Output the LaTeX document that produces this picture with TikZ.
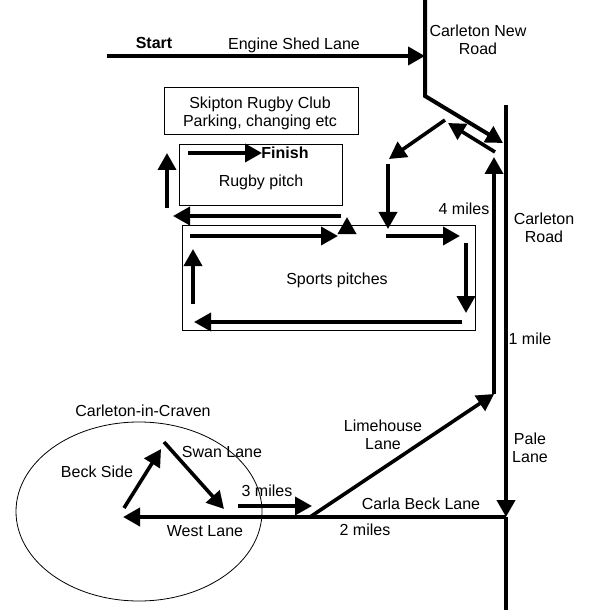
\documentclass[tikz,border=0pt]{standalone}
\usepackage{fontspec}
\setmainfont{Liberation Sans}
\usepackage{xcolor}
\usepackage{tikz}
\usetikzlibrary{arrows.meta,shapes.geometric,positioning}

\begin{document}
\begin{tikzpicture}[->, >={Triangle[length=17pt,width=18pt]}, x=1pt, y=-1pt, font=\fontsize{16}{18}\selectfont]

    \tikzstyle{every node}=[align=center, text=black, inner sep=0pt]
    \tikzstyle{area}=[draw=black, line width=0.8pt, minimum width=#1]
    \tikzstyle{road}=[draw=black, line width=4pt]
    \tikzstyle{route}=[draw=black, line width=3.6pt]

    \useasboundingbox (0,0) rectangle (590,612);

    % areas
    \node[area=194pt, minimum height=47pt] (CLUB) at (261,110.5) {};
    \node[area=163pt, minimum height=61pt] (RUGBY) at (260.5,174.5) {};
    \node[area=293pt, minimum height=105pt] (SPORTS) at (328.5,277.5) {};
    \node[area=246pt, minimum height=179pt, shape=ellipse] (VILLAGE) at (139,511.5) {};

    % roads
    \coordinate (SHEDSTART) at (107,56);
    \coordinate (SHEDEND) at (425,56);
    \coordinate (NEWTOP) at (425,0);
    \coordinate (NEWBEND) at (425,96);
    \coordinate (NEWEND) at (503,143);
    \coordinate (PALETOP) at (506,105);
    \coordinate (PALEJOIN) at (506,517);
    \coordinate (PALEEND) at (506,610);
    \coordinate (WESTEND) at (123,517);
    \coordinate (LIMESTART) at (310,517);
    \coordinate (LIMEEND) at (494,394);

    \path (SHEDSTART) edge [road] (SHEDEND);
    \draw[road] (NEWTOP) -- (NEWBEND) -- (NEWEND);
    \path (PALETOP) edge [road] (PALEJOIN);
    \path (PALEJOIN) edge [road, -] (PALEEND)
                     edge [road] (WESTEND);
    \path (LIMESTART) edge [route] (LIMEEND);

    % route back to the club
    \coordinate (NORTHTIP) at (494,157);
    \coordinate (TURNA) at (495,152);
    \coordinate (TURNB) at (448,123);
    \coordinate (TURNC) at (445,120);
    \coordinate (TURND) at (389,159);
    \coordinate (DOWNA) at (388,164);
    \coordinate (DOWNB) at (388,229);

    \path (LIMEEND) edge [route] (NORTHTIP);
    \path (TURNA) edge [route] (TURNB);
    \path (TURNC) edge [route] (TURND);
    \path (DOWNA) edge [route] (DOWNB);

    % lap of the sports pitches
    \coordinate (LAPA) at (386,236);
    \coordinate (LAPB) at (460,236);
    \coordinate (LAPC) at (466,243);
    \coordinate (LAPD) at (466,313);
    \coordinate (LAPE) at (462,322);
    \coordinate (LAPF) at (194,322);
    \coordinate (LAPG) at (193,304);
    \coordinate (LAPH) at (193,249);
    \coordinate (LAPI) at (190,236);
    \coordinate (LAPJ) at (338,236);
    \coordinate (GAPA) at (347,233);
    \coordinate (GAPB) at (347,217);
    \coordinate (PITCHA) at (341,216);
    \coordinate (PITCHB) at (173,216);
    \coordinate (PITCHC) at (167,208);
    \coordinate (PITCHD) at (167,153);
    \coordinate (PITCHE) at (188,153);
    \coordinate (PITCHF) at (262,153);

    \path (LAPA) edge [route] (LAPB);
    \path (LAPC) edge [route] (LAPD);
    \path (LAPE) edge [route] (LAPF);
    \path (LAPG) edge [route] (LAPH);
    \path (LAPI) edge [route] (LAPJ);
    \path (GAPA) edge [route] (GAPB);
    \path (PITCHA) edge [route] (PITCHB);
    \path (PITCHC) edge [route] (PITCHD);
    \path (PITCHE) edge [route] (PITCHF);

    % village loop
    \coordinate (BECKA) at (124,508);
    \coordinate (BECKB) at (161,449);
    \coordinate (SWANA) at (164,442);
    \coordinate (SWANB) at (224,509);
    \coordinate (THREEA) at (238,506);
    \coordinate (THREEB) at (312,506);

    \path (BECKA) edge [route] (BECKB);
    \path (SWANA) edge [route] (SWANB);
    \path (THREEA) edge [route] (THREEB);

    % labels
    \node (START) at (154,43) {\textbf{Start}};
    \node (SHED) at (294,45) {Engine Shed Lane};
    \node (NEWROAD) at (478,40) {Carleton New\\Road};
    \node (CLUBTEXT) at (260,113) {Skipton Rugby Club\\Parking, changing etc};
    \node (FINISH) at (285,153) {\textbf{Finish}};
    \node (RUGBYTEXT) at (261,182.5) {Rugby pitch};
    \node (FOUR) at (464,209) {4 miles};
    \node (CARLETON) at (544,228) {Carleton\\Road};
    \node (SPORTSTEXT) at (337,280.5) {Sports pitches};
    \node (ONE) at (530,339) {1 mile};
    \node (LIME) at (383,435) {Limehouse\\Lane};
    \node (PALE) at (530,448) {Pale\\Lane};
    \node (CARLA) at (421,504) {Carla Beck Lane};
    \node (TWO) at (365,530) {2 miles};
    \node (THREE) at (267,491) {3 miles};
    \node (WEST) at (205,531) {West Lane};
    \node (SWAN) at (222,452) {Swan Lane};
    \node (BECK) at (97,472) {Beck Side};
    \node (CRAVEN) at (143,411) {Carleton-in-Craven};

  \end{tikzpicture}
\end{document}
